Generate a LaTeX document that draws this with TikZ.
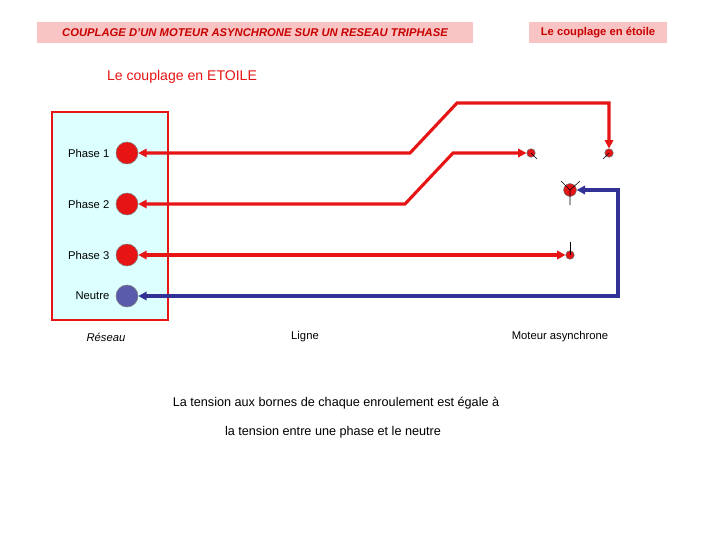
\documentclass[tikz,border=0pt]{standalone}
\usepackage{fontspec}
\setmainfont{Liberation Sans}
\usetikzlibrary{arrows.meta}
\definecolor{titlepink}{RGB}{248,196,196}
\definecolor{titlered}{RGB}{200,0,0}
\definecolor{reseaucyan}{RGB}{220,255,255}
\definecolor{wirered}{RGB}{230,20,20}
\definecolor{wireblue}{RGB}{50,50,150}
\tikzset{
  titlebox/.style={fill=titlepink,text=titlered,font=\bfseries\footnotesize,inner sep=0pt},
  wire/.style={line width=2.2pt,{Triangle[length=6pt,width=6pt]}-{Triangle[length=6pt,width=6pt]}},
  borne/.style={circle,fill=wirered,draw=black!60,inner sep=0pt,minimum size=6pt},
  tick/.style={black,thin},
  lbl/.style={font=\footnotesize}
}
\begin{document}
\begin{tikzpicture}[x=0.025cm,y=-0.025cm]
  \useasboundingbox (0,0) rectangle (720,540);
  % titres
  \node[titlebox,minimum width=436*0.025cm,minimum height=21*0.025cm] (titre) at (255,32.5) {\itshape COUPLAGE D'UN MOTEUR ASYNCHRONE SUR UN RESEAU TRIPHASE};
  \node[titlebox,minimum width=138*0.025cm,minimum height=21*0.025cm] (soustitre) at (598,32.5) {Le couplage en étoile};
  \node[text=wirered,font=\normalsize] (etoile) at (182,77) {Le couplage en ETOILE};
  % reseau
  \fill[reseaucyan,draw=wirered,line width=2pt] (52,112) rectangle (168,320);
  \node[circle,fill=wirered,draw=black!50,minimum size=22*0.025cm,inner sep=0pt] (p1) at (127,153) {};
  \node[circle,fill=wirered,draw=black!50,minimum size=22*0.025cm,inner sep=0pt] (p2) at (127,204) {};
  \node[circle,fill=wirered,draw=black!50,minimum size=22*0.025cm,inner sep=0pt] (p3) at (127,255) {};
  \node[circle,fill=wireblue!80,draw=black!50,minimum size=22*0.025cm,inner sep=0pt] (n) at (127,296) {};
  \node[lbl,left=1pt] at (p1.west) {Phase 1};
  \node[lbl,left=1pt] at (p2.west) {Phase 2};
  \node[lbl,left=1pt] at (p3.west) {Phase 3};
  \node[lbl,left=1pt] at (n.west) {Neutre};
  % bornes du moteur
  \node[borne] (m1) at (609,153) {};
  \node[borne] (m2) at (531,153) {};
  \node[borne] (m3) at (570,255) {};
  \node[borne,minimum size=9pt] (mn) at (570,190) {};
  \draw[tick] (m1.center) -- (603,159);
  \draw[tick] (m2.center) -- (537,159);
  \draw[tick] (m3.center) -- (570,242);
  \draw[tick] (mn.center) -- (561,181) (mn.center) -- (580,181) (mn.center) -- (570,205);
  % fils
  \draw[wire,wirered] (p1.east) -- (410,153) -- (457,103) -- (609,103) -- (m1.north);
  \draw[wire,wirered] (p2.east) -- (405,204) -- (453,153) -- (m2.west);
  \draw[wire,wirered] (p3.east) -- (m3.west);
  \draw[wire,wireblue] (n.east) -- (618,296) -- (618,190) -- (mn.east);
  % legendes
  \node[lbl,font=\footnotesize\itshape] (reseau) at (106,337) {Réseau};
  \node[lbl] (ligne) at (305,337) {Ligne};
  \node[lbl] (moteur) at (560,337) {Moteur asynchrone};
  \node[lbl,font=\small] (texte1) at (336,403) {La tension aux bornes de chaque enroulement est égale à};
  \node[lbl,font=\small] (texte2) at (333,432) {la tension entre une phase et le neutre};
\end{tikzpicture}
\end{document}
